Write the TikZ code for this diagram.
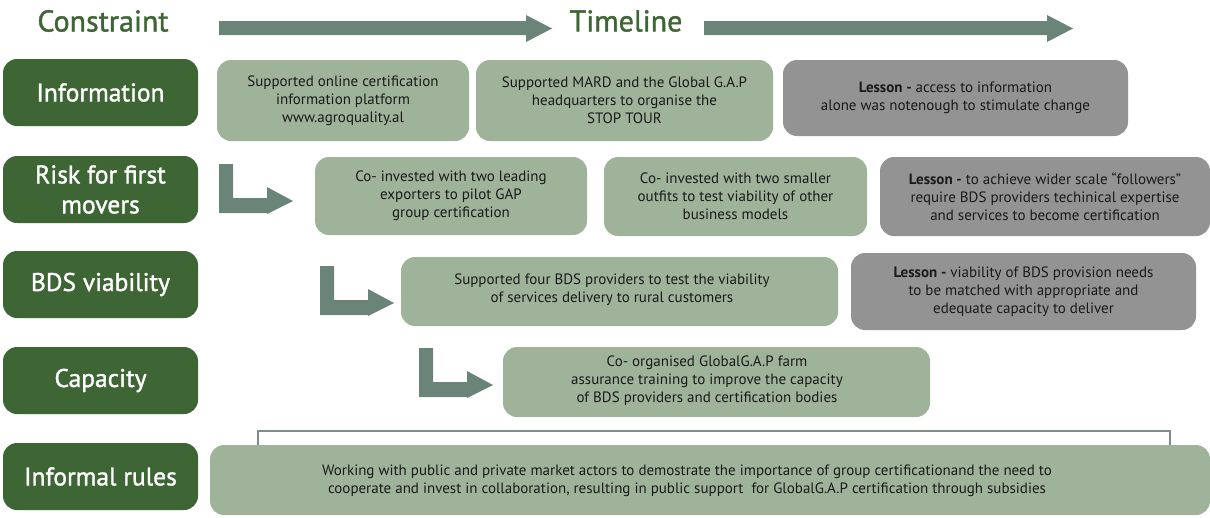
\documentclass[tikz,border=0pt]{standalone}
\usepackage{fontspec}
\setmainfont{PT Sans}
\newfontfamily\headfont{PT Sans}[FakeBold=1.3]
\definecolor{darkgreen}{HTML}{3E6634}
\definecolor{sage}{HTML}{9EB39A}
\definecolor{slate}{HTML}{939393}
\definecolor{arrowgreen}{HTML}{6A8477}
\definecolor{ink}{HTML}{1A1A1A}
\definecolor{bracket}{HTML}{7E8F87}
\begin{document}
\begin{tikzpicture}[x=1pt,y=-1pt,
  box/.style={rounded corners=14pt, inner sep=0pt, align=center, anchor=center},
  constraint/.style={box, fill=darkgreen, text=white,
    font=\headfont\fontsize{25.5}{30}\selectfont, minimum width=195pt, minimum height=67pt},
  bodyfont/.style={font=\fontsize{15}{17.8}\selectfont, text=ink},
  action/.style={box, fill=sage, bodyfont},
  lesson/.style={box, fill=slate, bodyfont},
  plain/.style={inner sep=0pt, align=center, bodyfont},
  heading/.style={inner sep=0pt, text=darkgreen, font=\headfont\fontsize{30}{34}\selectfont},
  arrowfill/.style={fill=arrowgreen},
]
\useasboundingbox (0,0) rectangle (1210,517);

% column headings
\node[heading] (constraint-head) at (103,21) {Constraint};
\node[heading] (timeline-head) at (626,21) {Timeline};

% timeline arrows
\fill[arrowfill] (219,21) -- (526,21) -- (526,15) -- (552,28.5) -- (526,42) -- (526,35) -- (219,35) -- cycle;
\fill[arrowfill] (704,21) -- (1047,21) -- (1047,15) -- (1073,28.5) -- (1047,42) -- (1047,35) -- (704,35) -- cycle;

% bent arrows leading into each later row
\foreach \dx/\dy in {0/0, 101/102, 200/184}
  \fill[arrowfill, shift={(\dx,\dy)}]
    (219,164) -- (233,164) -- (233,198) -- (267,198) -- (267,187) -- (293,201)
    -- (267,214) -- (267,213) -- (219,213) -- cycle;

% constraints
\node[constraint] (information) at (100.5,92.5) {Information};
\node[constraint] (risk) at (100.5,189.5) {Risk for first\\movers};
\node[constraint] (bds) at (100.5,284.5) {BDS viability};
\node[constraint] (capacity) at (100.5,380.5) {Capacity};
\node[constraint] (informal) at (100.5,476.5) {Informal rules};

% row 1
\node[action, minimum width=252pt, minimum height=81pt] (platform) at (343,100.5)
  {Supported online certification\\information platform\\www.agroquality.al};
\node[action, minimum width=297pt, minimum height=81pt] (stoptour) at (624.5,100.5)
  {Supported MARD and the Global G.A.P\\headquarters to organise the\\STOP TOUR};
\node[lesson, minimum width=345pt, minimum height=76pt] (lesson-info) at (955.5,98)
  {\textbf{Lesson -} access to information\\alone was notenough to stimulate change};

% row 2
\node[action, minimum width=272pt, minimum height=78pt] (exporters) at (451,196)
  {Co- invested with two leading\\exporters to pilot GAP\\group certification};
\node[action, minimum width=263pt, minimum height=79pt] (outfits) at (735.5,196.5)
  {Co- invested with two smaller\\outfits to test viability of other\\business models};
\node[lesson, minimum width=330pt, minimum height=79pt] (lesson-risk) at (1045,196.5)
  {\textbf{Lesson -} to achieve wider scale “followers”\\require BDS providers techinical expertise\\and services to become certification};

% row 3
\node[action, minimum width=437pt, minimum height=69pt] (providers-box) at (619.5,291.5) {};
\node[plain] (providers) at (612,290)
  {Supported four BDS providers to test the viability\\of services delivery to rural customers};
\node[lesson, minimum width=345pt, minimum height=77pt] (lesson-bds) at (1023.5,291.5)
  {\textbf{Lesson -} viability of BDS provision needs\\to be matched with appropriate and\\edequate capacity to deliver};

% row 4
\node[action, minimum width=427pt, minimum height=70pt] (training-box) at (716.5,382) {};
\node[plain] (training) at (707,380.5)
  {Co- organised GlobalG.A.P farm\\assurance training to improve the capacity\\of BDS providers and certification bodies};

% row 5
\draw[bracket, line width=1.3pt] (258,447) -- (258,431) -- (1170,431) -- (1170,447);
\node[action, minimum width=1000pt, minimum height=70pt] (collab-box) at (710,480) {};
\node[plain] (collab) at (687,481)
  {Working with public and private market actors to demostrate the importance of group certificationand the need to\\cooperate and invest in collaboration, resulting in public support\ \ for GlobalG.A.P certification through subsidies};
\end{tikzpicture}
\end{document}
